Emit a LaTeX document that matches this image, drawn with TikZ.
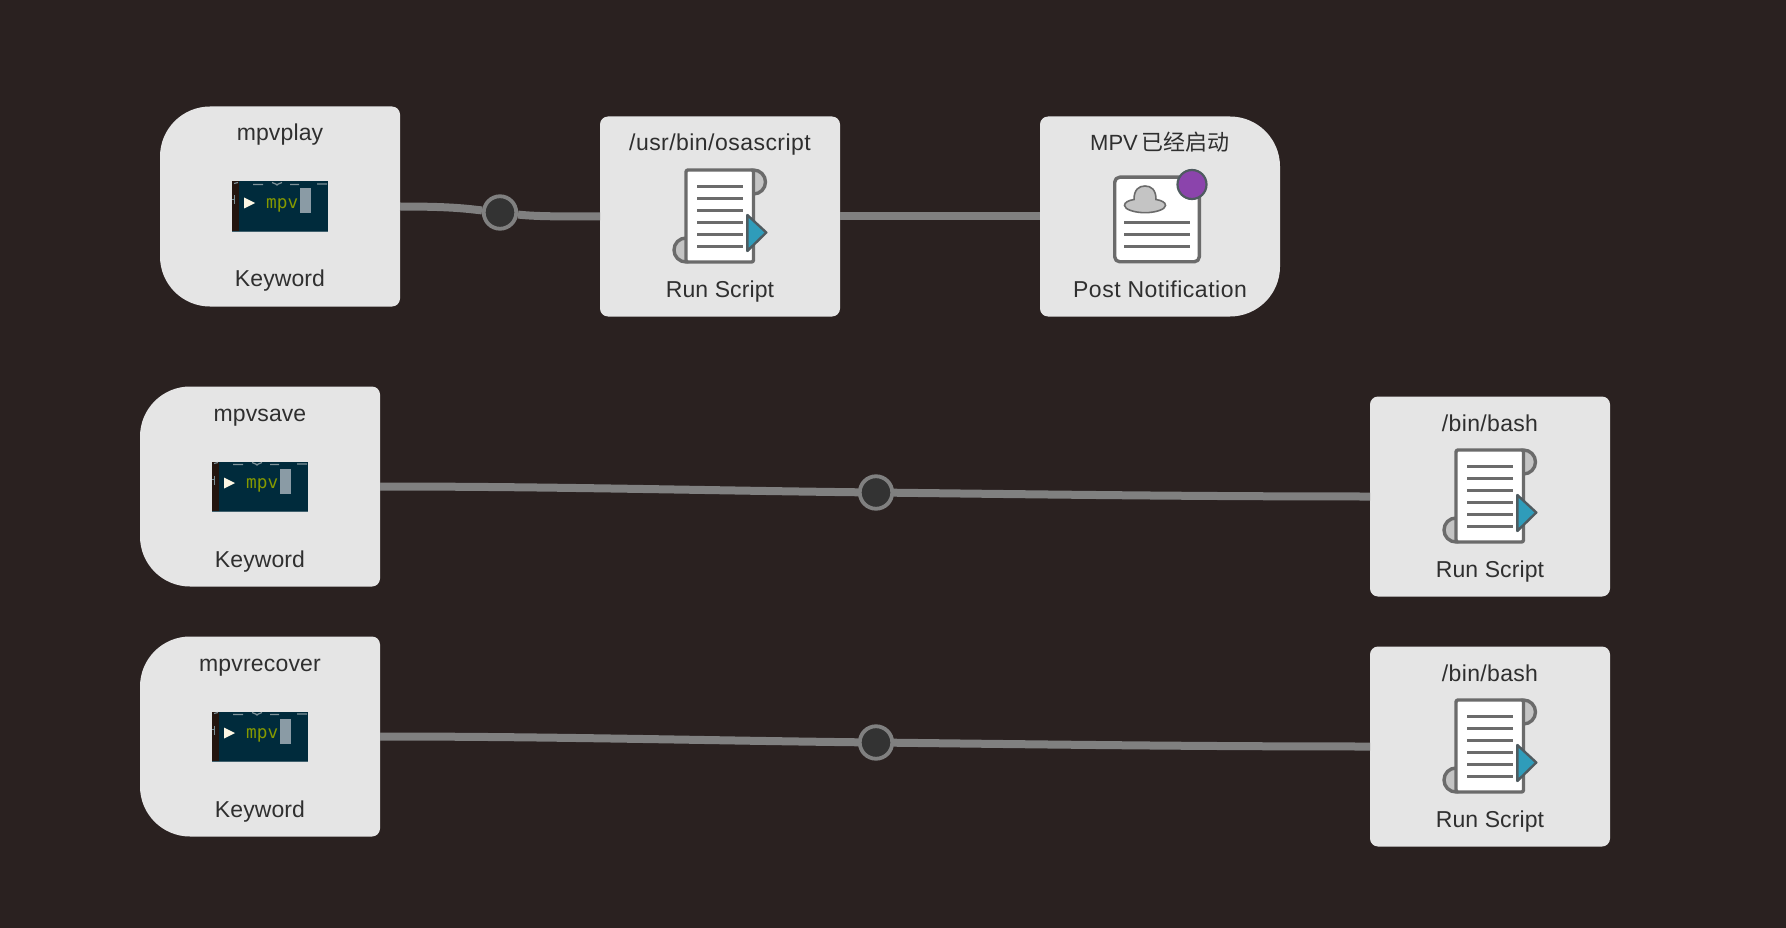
\documentclass[tikz,border=0pt]{standalone}
\usepackage{fontspec}
\setmainfont{Liberation Sans}
\newfontfamily\cjkf{Noto Sans CJK SC}
\newfontfamily\monof{DejaVu Sans Mono}
\definecolor{bgc}{HTML}{2A2120}
\definecolor{boxc}{HTML}{E5E5E5}
\definecolor{txtc}{HTML}{2F2F2F}
\definecolor{linec}{HTML}{808080}
\definecolor{jfill}{HTML}{333333}
\definecolor{icoline}{HTML}{6B6B6B}
\definecolor{icofill}{HTML}{C4C4C4}
\definecolor{tealc}{HTML}{2F9CBA}
\definecolor{tealo}{HTML}{4F5B60}
\definecolor{purplec}{HTML}{8B44AC}
\definecolor{termbg}{HTML}{002B3C}
\definecolor{termstrip}{HTML}{23150F}
\definecolor{termgreen}{HTML}{859900}
\definecolor{termcur}{HTML}{8A9BA5}
\definecolor{termcream}{HTML}{FDF6E3}
\definecolor{termgrey}{HTML}{7F9299}
\tikzset{
  boxanchor/.style={minimum width=240pt,minimum height=200pt,inner sep=0pt,outer sep=0pt},
  boxfill/.style={fill=boxc},
  boxtext/.style={font=\fontsize{23}{26}\selectfont,text=txtc,anchor=base,inner sep=0pt},
  wire/.style={draw=linec,line width=8pt},
  junction/.style={circle,draw=linec,fill=jfill,line width=3.8pt,minimum size=32.5pt,inner sep=0pt,outer sep=1.9pt},
  icostroke/.style={draw=icoline,line width=3.4pt,line join=round},
  icorule/.style={draw=icoline,line width=2.2pt},
}
\newcommand{\spaced}[2]{{\addfontfeatures{LetterSpace=#1}#2}}
\newcommand{\boxlabels}[3]{%
  \node[boxanchor] (#1) at (120,100) {};
  \node[boxtext] (#1-title) at (120,34.5) {#2};
  \node[boxtext] (#1-cap) at (120,180.5) {#3};
}
\newcommand{\kwbox}[4]{%
  \begin{scope}[shift={(#2,#3)}]
  \fill[boxfill] (50,0) -- (232,0) .. controls (236.4,0) and (240,3.6) .. (240,8)
    -- (240,192) .. controls (240,196.4) and (236.4,200) .. (232,200)
    -- (50,200) .. controls (22.4,200) and (0,177.6) .. (0,150)
    -- (0,50) .. controls (0,22.4) and (22.4,0) .. (50,0) -- cycle;
  \boxlabels{#1}{#4}{\spaced{0.4}{Keyword}}
  \fill[termbg] (72,75) rectangle (168,125);
  \fill[termstrip] (72,75) rectangle (79,125);
  \fill[termbg!75!white] (72,124.2) rectangle (168,125);
  \draw[termgrey,line width=1.2pt] (74,77) -- (78,76) (93,78) -- (103,78)
    (112,76) -- (118,78.5) (122,76) -- (116,78.5) (130,78) -- (139,78)
    (157,77.5) -- (167,77.5);
  \draw[termgrey,line width=1pt] (72,93) -- (75,93) (74.5,89) -- (74.5,98);
  \fill[termcream] (84,91) -- (95,96.5) -- (84,102) -- cycle;
  \node[anchor=base west,inner sep=0pt,text=termgreen,font=\monof\fontsize{17.7}{20}\selectfont] (#1-mpv) at (106,102) {mpv};
  \fill[termcur] (140,82) rectangle (151,107);
  \end{scope}
}
\newcommand{\scriptbox}[4]{%
  \begin{scope}[shift={(#2,#3)}]
  \fill[boxfill] (8,0) -- (232,0) .. controls (236.4,0) and (240,3.6) .. (240,8)
    -- (240,192) .. controls (240,196.4) and (236.4,200) .. (232,200)
    -- (8,200) .. controls (3.6,200) and (0,196.4) .. (0,192)
    -- (0,8) .. controls (0,3.6) and (3.6,0) .. (8,0) -- cycle;
  \boxlabels{#1}{#4}{\spaced{0.5}{Run Script}}
  \filldraw[icostroke,fill=icofill] (153.5,65.5) circle[radius=12];
  \filldraw[icostroke,fill=icofill] (86,133.5) circle[radius=12];
  \filldraw[icostroke,fill=white,rounded corners=2pt] (86,53.5) rectangle (153.5,145.5);
  \foreach \yy in {70,82,94,106,118,130} \draw[icorule] (97,\yy) -- (143,\yy);
  \filldraw[draw=tealo,line width=2.4pt,fill=tealc,line join=round] (147.3,98.5) -- (166.3,116) -- (147.3,134.5) -- cycle;
  \end{scope}
}
\newcommand{\notifbox}[4]{%
  \begin{scope}[shift={(#2,#3)}]
  \fill[boxfill] (8,0) -- (190,0) .. controls (217.6,0) and (240,22.4) .. (240,50)
    -- (240,150) .. controls (240,177.6) and (217.6,200) .. (190,200)
    -- (8,200) .. controls (3.6,200) and (0,196.4) .. (0,192)
    -- (0,8) .. controls (0,3.6) and (3.6,0) .. (8,0) -- cycle;
  \boxlabels{#1}{#4}{\spaced{2.2}{Post Notification}}
  \filldraw[icostroke,fill=white,rounded corners=5pt] (74.7,60.7) rectangle (159.3,145.3);
  \filldraw[draw=icoline,line width=1.6pt,fill=icofill] (94,83)
    .. controls (94,73) and (99,69.5) .. (105,69.5)
    .. controls (111,69.5) and (116,73) .. (116,83)
    .. controls (122,84) and (125.5,86) .. (125.5,89)
    .. controls (125.5,93) and (115,96.2) .. (105,96.2)
    .. controls (95,96.2) and (84.5,93) .. (84.5,89)
    .. controls (84.5,86) and (88,84) .. (94,83) -- cycle;
  \foreach \yy in {106,118,130} \draw[icorule] (84,\yy) -- (150,\yy);
  \filldraw[draw=tealo,line width=2.2pt,fill=purplec] (152,68) circle[radius=14.5];
  \end{scope}
}
\begin{document}
\begin{tikzpicture}[x=1pt,y=-1pt]
\useasboundingbox (0,-0.5) rectangle (1786,927.5);
\fill[bgc] (0,-0.5) rectangle (1786,927.5);

\kwbox{kwa}{160}{106}{\spaced{0.6}{mpvplay}}
\scriptbox{sa}{600}{116}{\spaced{2}{/usr/bin/osascript}}
\notifbox{na}{1040}{116}{{\fontsize{22}{26}\selectfont MPV\hspace{4pt}{\cjkf 已经启动}}}
\kwbox{kwb}{140}{386}{\spaced{0.4}{mpvsave}}
\scriptbox{sb}{1370}{396}{\spaced{1.5}{/bin/bash}}
\kwbox{kwc}{140}{636}{\spaced{0.8}{mpvrecover}}
\scriptbox{sc}{1370}{646}{\spaced{1.5}{/bin/bash}}

\node[junction] (ja) at (500,212) {};
\node[junction] (jb) at (876,492) {};
\node[junction] (jc) at (876,742) {};

\draw[wire] (kwa.east) .. controls +(50,0) and +(-35,-4) .. (ja);
\draw[wire] (ja) .. controls +(35,4) and +(-40,0) .. (sa.west);
\draw[wire] (sa.east) -- (na.west);
\draw[wire] (kwb.east) .. controls +(170,0) and +(-170,-2) .. (jb);
\draw[wire] (jb) .. controls +(170,2) and +(-170,0) .. (sb.west);
\draw[wire] (kwc.east) .. controls +(170,0) and +(-170,-2) .. (jc);
\draw[wire] (jc) .. controls +(170,2) and +(-170,0) .. (sc.west);
\end{tikzpicture}
\end{document}
